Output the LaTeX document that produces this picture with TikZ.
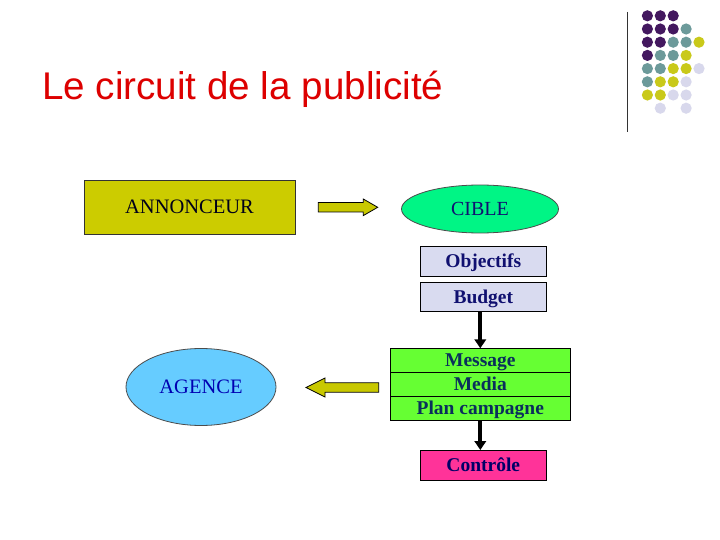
\documentclass[tikz,border=0pt]{standalone}
\usepackage{fontspec}
\setmainfont{Liberation Serif}
\newfontfamily\titlefont{Liberation Sans}
\usetikzlibrary{arrows.meta,shapes.geometric,positioning}
\definecolor{titlered}{HTML}{DD0000}
\definecolor{annyellow}{HTML}{CCCC00}
\definecolor{ciblegreen}{HTML}{00F585}
\definecolor{agenceblue}{HTML}{66CCFF}
\definecolor{lavender}{HTML}{D9DBF0}
\definecolor{msggreen}{HTML}{66FF33}
\definecolor{ctrlpink}{HTML}{FF3399}
\definecolor{arrowyellow}{HTML}{C8C800}
\definecolor{navytext}{HTML}{101070}
\definecolor{msgtext}{HTML}{0A2F5C}
\definecolor{dotpurple}{HTML}{43185F}
\definecolor{dotteal}{HTML}{6C9A9A}
\definecolor{dotyellow}{HTML}{C9C91A}
\definecolor{dotlilac}{HTML}{D8D8EC}

\begin{document}
\begin{tikzpicture}[x=1pt,y=-1pt,
  box/.style={rectangle,draw=black,line width=0.8pt,inner sep=0pt,outer sep=0pt,
    text height=13pt,text depth=0pt,
    font=\fontsize{19.5}{22}\selectfont\bfseries},
  oval/.style={ellipse,draw=black!70,line width=0.8pt,inner sep=0pt,
    text height=13.5pt,text depth=0pt,
    font=\fontsize{20}{22}\selectfont},
  blockarrow/.style={fill=arrowyellow,draw=black,line width=0.8pt,line join=miter},
  flow/.style={line width=3.8pt,-{Triangle[length=9pt,width=11.5pt]}}]
  \fill[white] (0,0) rectangle (720,540);
  \useasboundingbox (0,0) rectangle (720,540);
  % title and corner decoration
  \node[anchor=base west,inner sep=0pt,text=titlered,font=\titlefont\fontsize{38.6}{46}\selectfont] (title) at (42,99.4) {Le circuit de la publicit\'e};
  \draw[black!80,line width=0.9pt] (627,12) -- (627,132.5);
  \foreach \c/\r/\col in {1/1/dotpurple,2/1/dotpurple,3/1/dotpurple,
      1/2/dotpurple,2/2/dotpurple,3/2/dotpurple,4/2/dotteal,
      1/3/dotpurple,2/3/dotpurple,3/3/dotteal,4/3/dotteal,5/3/dotyellow,
      1/4/dotpurple,2/4/dotteal,3/4/dotteal,4/4/dotyellow,
      1/5/dotteal,2/5/dotteal,3/5/dotyellow,4/5/dotyellow,5/5/dotlilac,
      1/6/dotteal,2/6/dotyellow,3/6/dotyellow,4/6/dotlilac,
      1/7/dotyellow,2/7/dotyellow,3/7/dotlilac,4/7/dotlilac,
      2/8/dotlilac,4/8/dotlilac}
    \fill[\col] ({634.5+12.9*\c},{2.6+13.2*\r}) circle (5.6);
  % nodes
  \node[box,fill=annyellow,draw=black!80,minimum width=211,minimum height=54,font=\fontsize{20.5}{22}\selectfont,text=black!90!blue] (ann) at (189.5,207) {ANNONCEUR};
  \node[oval,fill=ciblegreen,minimum width=157,minimum height=48,text=navytext] (cible) at (480,209) {CIBLE};
  \node[box,fill=lavender,minimum width=126.5,minimum height=29.5,text=navytext] (obj) at (483.3,261.3) {Objectifs};
  \node[box,fill=lavender,minimum width=126.5,minimum height=29.5,text=navytext] (budget) at (483.3,296.8) {Budget};
  \node[box,fill=msggreen,minimum width=180.7,minimum height=24,text=msgtext] (msg) at (480.3,360.3) {Message};
  \node[box,fill=msggreen,minimum width=180.7,minimum height=24,text=msgtext,below=0pt of msg] (media) {Media};
  \node[box,fill=msggreen,minimum width=180.7,minimum height=24,text=msgtext,below=0pt of media] (plan) {Plan campagne};
  \node[box,fill=ctrlpink,minimum width=125.5,minimum height=30,text=black!60!blue] (ctrl) at (483.3,465) {Contr\^ole};
  \node[oval,fill=agenceblue,minimum width=150,minimum height=77,text=black!30!blue,font=\fontsize{20.5}{22}\selectfont] (agence) at (201,387) {AGENCE};
  % block arrows
  \coordinate (tailR) at (318.3,207.3);
  \coordinate (tipR) at (377.7,207.3);
  \draw[blockarrow] (tailR) ++(0,-4.7) -- ++(45,0) -- ++(0,-3.6) -- (tipR) -- ++(-14.4,8.3) -- ++(0,-3.6) -- ++(-45,0) -- cycle;
  \coordinate (tipL) at (306,387.5);
  \draw[blockarrow] (tipL) -- ++(19,-9.5) -- ++(0,4.8) -- ++(53.7,0) -- ++(0,9.4) -- ++(-53.7,0) -- ++(0,4.8) -- cycle;
  % flow arrows
  \draw[flow] (msg.north |- budget.south) -- (msg.north);
  \draw[flow] (plan.south) -- (plan.south |- ctrl.north);
\end{tikzpicture}
\end{document}
